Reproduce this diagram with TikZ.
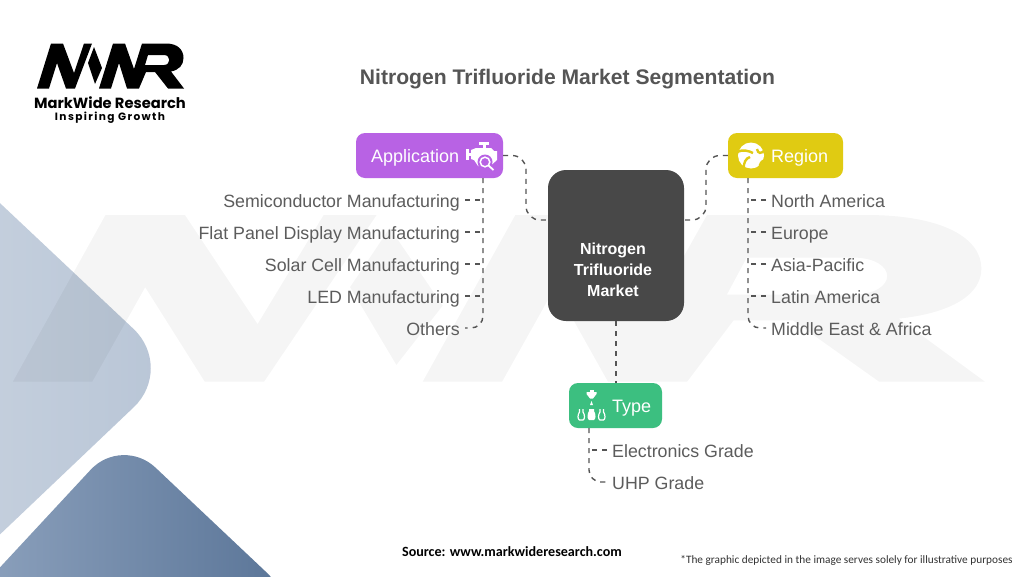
\documentclass[tikz,border=0pt]{standalone}
\usepackage{fontspec}
\setmainfont{Liberation Sans}
\newfontfamily\carlito{Carlito}
\newfontfamily\popp{Poppins}
\newfontfamily\poppls[LetterSpace=13]{Poppins}
\usetikzlibrary{calc}
\definecolor{dashc}{HTML}{555555}
\definecolor{labelc}{HTML}{5C5C5C}
\definecolor{appc}{RGB}{184,98,228}
\definecolor{regc}{RGB}{224,203,18}
\definecolor{typc}{RGB}{60,191,128}
\newcommand\fs[1]{\fontsize{#1}{#1}\selectfont}
\newcommand\logoshapes{%
 \fill (37,88.5) -- (51,43.5) -- (63,43.5) -- (74,73) -- (84,43.5) -- (92,43.5) -- (75,88.5) -- (66,88.5) -- (57,63) -- (49,88.5) -- cycle;
 \fill (94,47) -- (102,68) -- (95,84) -- (88,63) -- cycle;
 \fill[even odd rule] (99,88.5) -- (113,43.5) -- (125,43.5) -- (134,69) -- (142,43.5) -- (166,43.5) .. controls (178,43.5) and (183.5,50) .. (183.5,58) .. controls (183.5,65) and (179,70) .. (171,71.5) -- (184,88.5) -- (168,88.5) -- (155,72) -- (146,72) -- (139,88.5) -- (127,88.5) -- (119,63) -- (111,88.5) -- cycle
 (148,55) -- (164,55) .. controls (171,55) and (171,65) .. (164,65) -- (145,65) -- cycle;
}
\tikzset{
 x=1pt,y=-1pt,
 dashline/.style={draw=dashc,line width=1.4pt,dash pattern=on 5pt off 5pt},
 catbox/.style={rounded corners=9pt,minimum height=45pt,inner sep=0pt},
 cattext/.style={anchor=mid west,inner sep=0pt,text=white,font=\fs{18}},
 itemL/.style={anchor=mid east,inner sep=0pt,text=labelc,font=\fs{17.8}},
 itemR/.style={anchor=mid west,inner sep=0pt,text=labelc,font=\fs{17.8}},
}
\begin{document}
\begin{tikzpicture}
\useasboundingbox (0,0) rectangle (1024,576);
\fill[white] (0,0) rectangle (1024,576);
% background shapes
\shade[rounded corners=57pt,left color={rgb,255:red,206;green,215;blue,227},right color={rgb,255:red,184;green,197;blue,214}] (-170,43) -- (175,368) -- (-170,696) -- cycle;
\shade[rounded corners=46pt,left color={rgb,255:red,146;green,166;blue,193},right color={rgb,255:red,88;green,115;blue,150}] (-60,632) -- (122,436) -- (300,604) -- cycle;
% watermark
\begin{scope}[shift={(13,215)},xscale=6.61,yscale=3.7,shift={(-37,-43.5)},black,opacity=.04]
\logoshapes
\end{scope}
% logo
\begin{scope}[black]
\logoshapes
\end{scope}
\node[inner sep=0pt,font=\popp\bfseries\fs{14.7},anchor=mid] (logoa) at (110,106) {MarkWide Research};
\node[inner sep=0pt,font=\poppls\bfseries\fs{10.6},anchor=mid] (logob) at (110,118) {Inspiring Growth};
% title
\node[inner sep=0pt,font=\bfseries\fs{21.1},text={rgb,255:red,85;green,85;blue,85},anchor=mid] (title) at (567.5,82) {Nitrogen Trifluoride Market Segmentation};
% boxes
\node[fill={rgb,255:red,72;green,72;blue,72},rounded corners=18pt,minimum width=136pt,minimum height=151pt,inner sep=0pt] (ctr) at (616,245.5) {};
\node[text=white,font=\bfseries\fs{16},align=center,inner sep=0pt,anchor=center] (ctrt) at (613,270) {Nitrogen\\[5pt]Trifluoride\\[5pt]Market};
\node[catbox,fill=appc,minimum width=147pt] (app) at (429.5,155.5) {};
\node[cattext] (appt) at (371,160) {Application};
\node[catbox,fill=regc,minimum width=115pt] (reg) at (785.5,155.5) {};
\node[cattext] (regt) at (771,160) {Region};
\node[catbox,fill=typc,minimum width=93pt] (typ) at (615.5,405.5) {};
\node[cattext] (typt) at (612,410) {Type};
% application icon
\begin{scope}[white]
\fill (479,142) rectangle (489,144.5);
\fill (483,144) rectangle (485.5,148);
\fill (471,150) -- (476,148) -- (491,148) -- (494,151) -- (497,151) -- (497,160) -- (488,168) -- (478,166) -- (474,160) -- (471,159) -- cycle;
\fill (466,149) rectangle (468.5,160);
\fill (468,153) rectangle (472,156);
\fill[fill=appc] (485,162) circle (7.5);
\draw[line width=1.5pt] (485,162) circle (4.8);
\draw[line width=1.8pt] (488.5,165.5) -- (493.5,170);
\end{scope}
% globe icon
\fill[white] (751,155.5) circle (13);
\begin{scope}[draw=regc,line width=2.4pt]
\draw (737,152) .. controls (743,149) and (749,151) .. (753,153);
\draw (744,169) .. controls (743,163) and (746,158) .. (750,157);
\draw (765,150) .. controls (761,154) and (758,154) .. (757,149);
\draw (760,168) .. controls (759,164) and (762,161) .. (765,160);
\end{scope}
% type icon
\begin{scope}[white]
\fill (586.5,392) -- (596.5,392) -- (596.5,394) -- (593,398.5) -- (590,398.5) -- (586.5,394) -- cycle;
\fill (589.5,389.5) rectangle (593.5,391.5);
\fill (591.5,401) -- (593,405) -- (590,405) -- cycle;
\fill (589,409) -- (594,409) -- (594,411) .. controls (596,414) and (596,419) .. (594,420) -- (589,420) .. controls (587,419) and (587,414) .. (589,411) -- cycle;
\draw[line width=1.2pt] (579.5,409) -- (579.5,412) .. controls (577.5,415) and (577.5,419) .. (579.5,420) -- (583,420) .. controls (585,419) and (585,415) .. (583,412) -- (583,409);
\draw[line width=1.2pt] (600,409) -- (600,412) .. controls (598,415) and (598,419) .. (600,420) -- (603.5,420) .. controls (605.5,419) and (605.5,415) .. (603.5,412) -- (603.5,409);
\end{scope}
% left items
\node[itemL] (a1) at (460,205) {Semiconductor Manufacturing};
\node[itemL] (a2) at (460,237) {Flat Panel Display Manufacturing};
\node[itemL] (a3) at (460,269) {Solar Cell Manufacturing};
\node[itemL] (a4) at (460,301) {LED Manufacturing};
\node[itemL] (a5) at (460,333) {Others};
% right items
\node[itemR] (r1) at (771,205) {North America};
\node[itemR] (r2) at (771,237) {Europe};
\node[itemR] (r3) at (771,269) {Asia-Pacific};
\node[itemR] (r4) at (771,301) {Latin America};
\node[itemR] (r5) at (771,333) {Middle East \& Africa};
% type items
\node[itemR] (t1) at (612,455) {Electronics Grade};
\node[itemR] (t2) at (612,487) {UHP Grade};
% connectors
\coordinate (aT) at (483,178);
\coordinate (rT) at (748,178);
\coordinate (tT) at (589,428);
\draw[dashline,rounded corners=14pt] (app.east) -- (526,155.5) -- (526,220) -- (548,220);
\draw[dashline,rounded corners=14pt] (reg.west) -- (706,155.5) -- (706,220) -- (684,220);
\draw[dashline] (ctr.south) -- (typ.north -| ctr.south);
\draw[dashline,rounded corners=12pt] (aT) -- (483,328) -- ($(a5.mid east)+(5,-5)$);
\draw[dashline,rounded corners=12pt] (rT) -- (748,328) -- ($(r5.mid west)+(-5,-5)$);
\draw[dashline,rounded corners=12pt] (tT) -- (589,482) -- ($(t2.mid west)+(-5,-5)$);
\foreach \n/\y in {a1/200,a2/232,a3/264,a4/296}{\draw[dashline] ($(\n.mid east)+(5,-5)$) -- (483,\y);}
\foreach \n/\y in {r1/200,r2/232,r3/264,r4/296}{\draw[dashline] ($(\n.mid west)+(-5,-5)$) -- (748,\y);}
\draw[dashline] ($(t1.mid west)+(-5,-5)$) -- (589,450);
% footer
\node[inner sep=0pt,anchor=mid,font=\carlito\bfseries\fs{14.1}] (src) at (512,554) {Source: www.markwideresearch.com};
\node[inner sep=0pt,anchor=mid,font=\carlito\fs{11.3},text={rgb,255:red,50;green,50;blue,50}] (note) at (846.5,561) {*The graphic depicted in the image serves solely for illustrative purposes};
\end{tikzpicture}
\end{document}
